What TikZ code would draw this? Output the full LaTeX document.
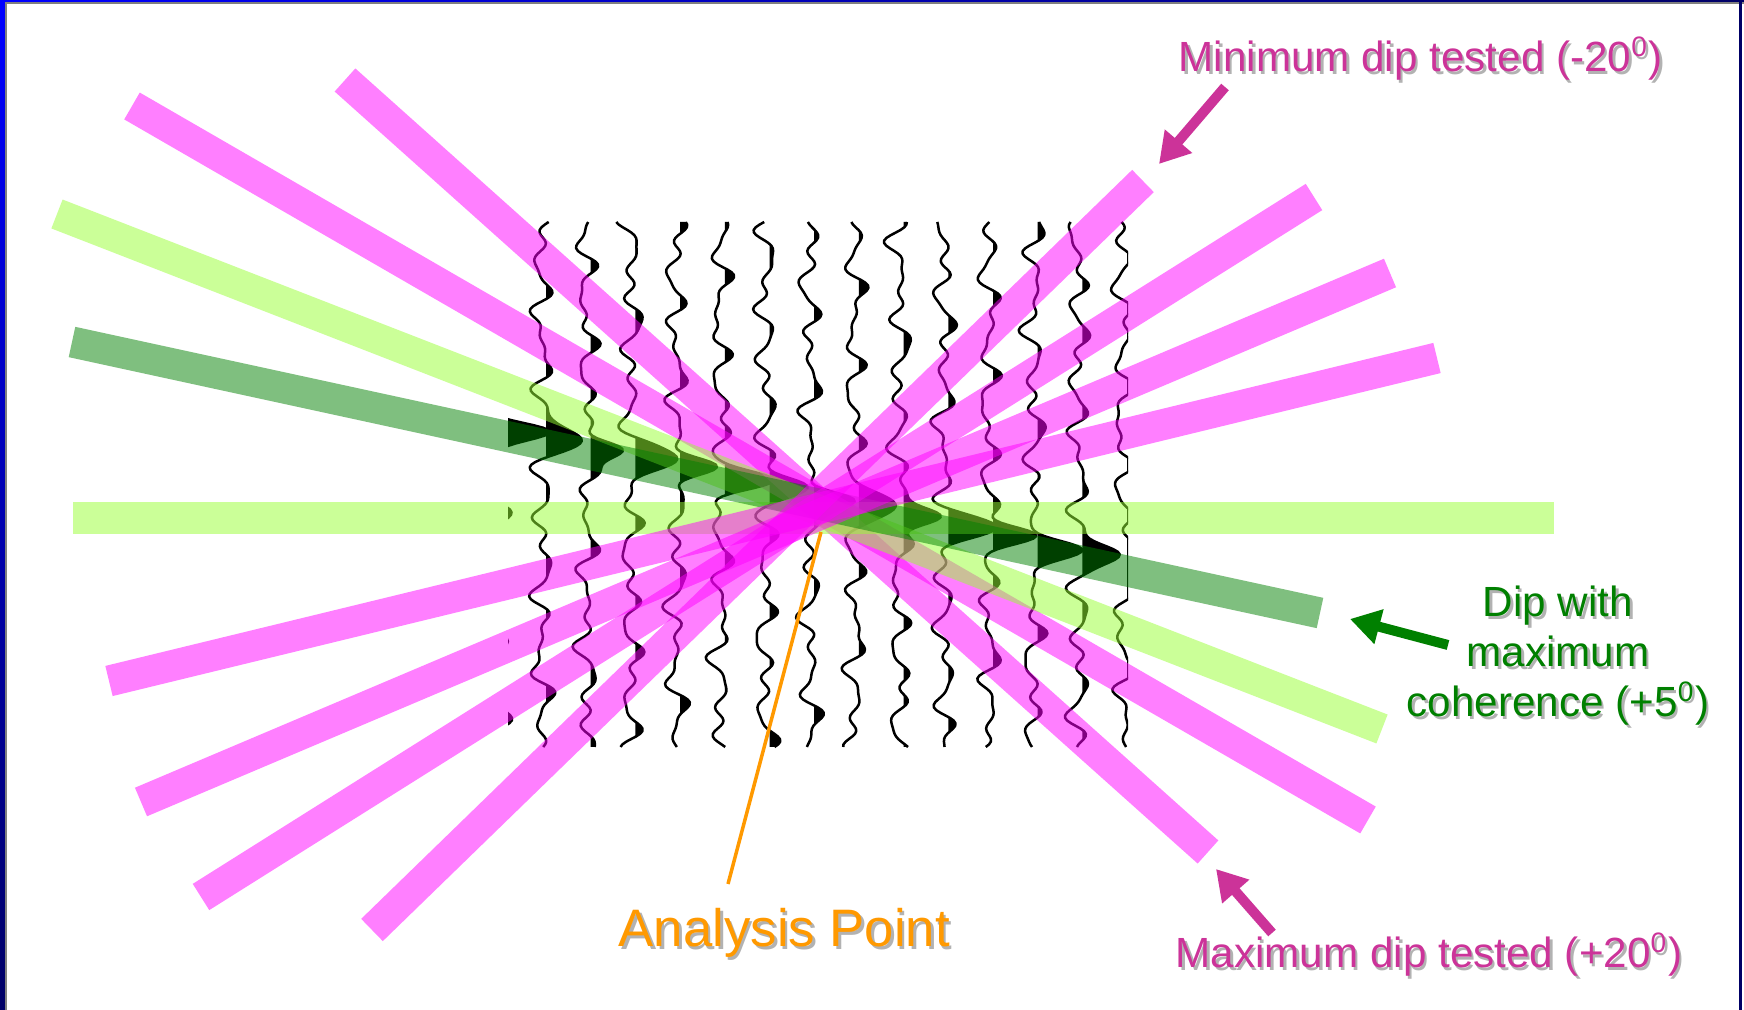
\documentclass[tikz,border=0pt]{standalone}
\usepackage{fontspec}
\setmainfont{Liberation Sans}
\usetikzlibrary{arrows.meta}

\definecolor{dipmagenta}{RGB}{255,0,255}
\definecolor{diplime}{RGB}{153,255,51}
\definecolor{dipgreen}{RGB}{0,128,0}
\definecolor{notepink}{RGB}{204,51,153}
\definecolor{notegreen}{RGB}{0,128,0}
\definecolor{aporange}{RGB}{255,153,0}
\definecolor{framenavy}{RGB}{0,0,102}

% grey drop shadow behind a piece of text
\newcommand{\shadowed}[1]{\leavevmode\rlap{\kern0.025cm\raisebox{-0.025cm}{\textcolor{black!30}{#1}}}#1}

\begin{document}
\begin{tikzpicture}[x=0.01cm, y=-0.01cm,
    band/.style={line width=0.31cm},
    magband/.style={band, draw=dipmagenta, draw opacity=0.5},
    limeband/.style={band, draw=diplime, draw opacity=0.5},
    greenband/.style={band, draw=dipgreen, draw opacity=0.5},
    wiggle/.style={line width=0.025cm, black, line join=round},
    dipnote/.style={font=\fontsize{12}{14.2}\selectfont, inner sep=0pt},
    fatarrow/.style={line width=0.1cm, -{Triangle[length=0.3cm, width=0.34cm]}},
    declare function={
      bump(\u)=exp(-min(\u*\u,20));
      wig(\t,\k,\e)=6*sin(5.3*\t+97*\k)+5*sin(8.9*\t+211*\k+30)+3*sin(13.7*\t+71*\k)+2*sin(2.1*\t+41*\k*\k)+44*bump((\t-\e)/13);
    }]
    \useasboundingbox (0,0) rectangle (1744,1010);

    % Frame
    \fill[white] (0,0) rectangle (1744,1010);
    \shade[top color=blue, bottom color=framenavy] (0,0) rectangle (5,1010);
    \fill[gray] (5,4.5) rectangle (7.5,1010);
    \shade[left color=blue, right color=framenavy] (0,0) rectangle (1744,2.5);
    \fill[gray] (5,2.5) rectangle (1744,4.5);
    \fill[framenavy] (1739,0) rectangle (1742,1010);

    % Seismic traces (variable area wiggles), clipped to the gather
    \begin{scope}
        \clip (508,219) rectangle (1128,750);
        \foreach \i in {-1,...,13} {
            \pgfmathsetmacro{\xo}{542+44.7*\i}
            \pgfmathsetmacro{\ye}{440+9.7*\i}
            \begin{scope}
                \clip (\xo+4,219) rectangle (\xo+70,750);
                \fill[black] plot[domain=222:747, samples=200, variable=\t] ({\xo+wig(\t,\i,\ye)}, \t) -- (\xo,747) -- (\xo,222) -- cycle;
            \end{scope}
            \draw[wiggle] plot[domain=222:747, samples=200, variable=\t] ({\xo+wig(\t,\i,\ye)}, \t);
        }
    \end{scope}

    % Dips tested, downward to the right
    \foreach \xa/\ya/\xb/\yb in {345/80/1208/852, 132/106/1368/820}
        \draw[magband] (\xa,\ya) -- (\xb,\yb);

    % Other dips and the dip with maximum coherence
    \draw[limeband] (73,518) -- (1554,518);
    \draw[limeband] (57,214) -- (1382,729);
    \draw[greenband] (72,342) -- (1320,613);

    % Dips tested, upward to the right
    \foreach \xa/\ya/\xb/\yb in {372/930/1143/181, 201/897/1314/197, 141/802/1390/273, 109/681/1437/358}
        \draw[magband] (\xa,\ya) -- (\xb,\yb);

    % Labels
    \node[dipnote, text=notepink, anchor=base west] (mindip) at (1178,72) {\shadowed{Minimum dip tested (-20\textsuperscript{0})}};
    \node[dipnote, text=notepink, anchor=base west] (maxdip) at (1175,968) {\shadowed{Maximum dip tested (+20\textsuperscript{0})}};
    \node[dipnote, text=notegreen, align=center] (bestdip) at (1558,657) {\shadowed{Dip with}\\ \shadowed{maximum}\\ \shadowed{coherence (+5\textsuperscript{0})}};
    \node[dipnote, font=\fontsize{15}{18}\selectfont, text=aporange, anchor=base west] (aplabel) at (618,947) {\shadowed{Analysis Point}};

    % Pointers
    \coordinate (mintail) at (1225,87);
    \coordinate (mintip) at (1159,164);
    \coordinate (maxtail) at (1272,933);
    \coordinate (maxtip) at (1216,869);
    \coordinate (besttail) at (1448,645);
    \coordinate (besttip) at (1350,619);
    \coordinate (aptail) at (728,884);
    \coordinate (apoint) at (821,532);
    \draw[fatarrow, notepink] (mintail) -- (mintip);
    \draw[fatarrow, notepink] (maxtail) -- (maxtip);
    \draw[fatarrow, notegreen] (besttail) -- (besttip);
    \draw[aporange, line width=0.035cm] (aptail) -- (apoint);
\end{tikzpicture}
\end{document}
